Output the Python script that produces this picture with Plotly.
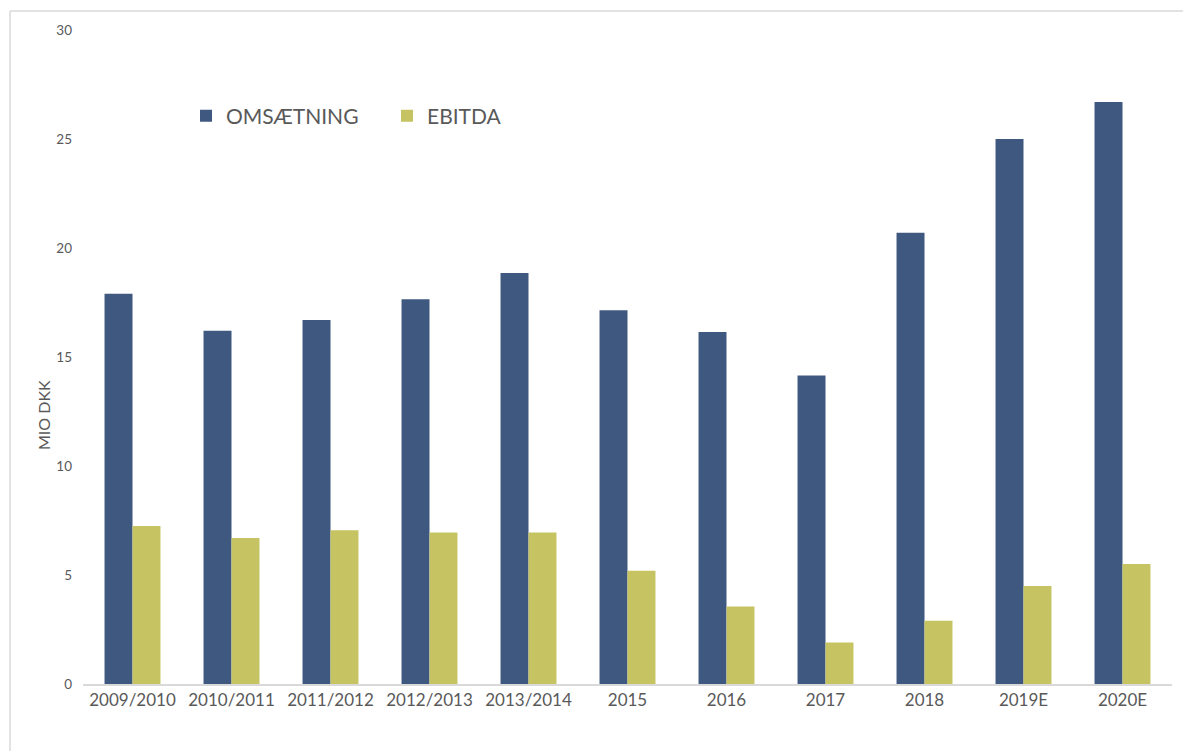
import plotly.graph_objects as go

categories = ["2009/2010", "2010/2011", "2011/2012", "2012/2013", "2013/2014",
              "2015", "2016", "2017", "2018", "2019E", "2020E"]
omsaetning = [17.9, 16.2, 16.7, 17.65, 18.85, 17.15, 16.15, 14.15, 20.7, 25.0, 26.7]
ebitda = [7.25, 6.7, 7.05, 6.95, 6.95, 5.2, 3.55, 1.9, 2.9, 4.5, 5.5]
y_ticks = [0, 5, 10, 15, 20, 25, 30]

FONT = "Lato"
GREY = "#595959"

# page body margin offset (8px) compensated
OFF = 8
W, H = 1191 - OFF, 751 - OFF
L, T, R, B = 83 - OFF, 30 - OFF, 19, 67
PW = W - L - R
PH = H - T - B


def px_x(sx):
    return (sx - OFF - L) / PW


def px_y(sy):
    return (H - B - (sy - OFF)) / PH


fig = go.Figure()
fig.add_trace(go.Bar(name="OMSÆTNING", x=categories, y=omsaetning,
                     marker=dict(color="#3F5880", line=dict(width=0))))
fig.add_trace(go.Bar(name="EBITDA", x=categories, y=ebitda,
                     marker=dict(color="#C6C362", line=dict(width=0))))

fig.update_layout(
    width=W, height=H,
    margin=dict(l=L, r=R, t=T, b=B),
    paper_bgcolor="white", plot_bgcolor="white",
    barmode="group", bargap=0.435, bargroupgap=0,
    font=dict(family=FONT, color=GREY),
    showlegend=True,
    legend=dict(orientation="h", x=px_x(186), xanchor="left", y=px_y(116), yanchor="middle",
                font=dict(size=21, color=GREY), entrywidth=156,
                bgcolor="rgba(0,0,0,0)", traceorder="normal"),
    xaxis=dict(showgrid=False, showline=True, linecolor="#D9D9D9", linewidth=1.5,
               ticks="", tickfont=dict(size=17, color=GREY), zeroline=False),
    yaxis=dict(range=[0, 30], tickvals=y_ticks, showgrid=False, showline=False,
               zeroline=False, ticks="", tickfont=dict(size=13.5, color=GREY),
               ticklabelstandoff=10),
    annotations=[dict(text="MIO DKK", xref="paper", yref="paper",
                      x=px_x(43), y=px_y(415), textangle=-90,
                      showarrow=False, font=dict(size=16, color=GREY),
                      xanchor="center", yanchor="middle")],
    shapes=[
        dict(type="line", xref="paper", yref="paper",
             x0=px_x(10), x1=px_x(1191),
             y0=px_y(11), y1=px_y(11),
             line=dict(color="#D9D9D9", width=1.5)),
        dict(type="line", xref="paper", yref="paper",
             x0=px_x(10), x1=px_x(10),
             y0=px_y(11), y1=px_y(751),
             line=dict(color="#D9D9D9", width=1.5)),
    ],
)

fig.write_html("out.html")
